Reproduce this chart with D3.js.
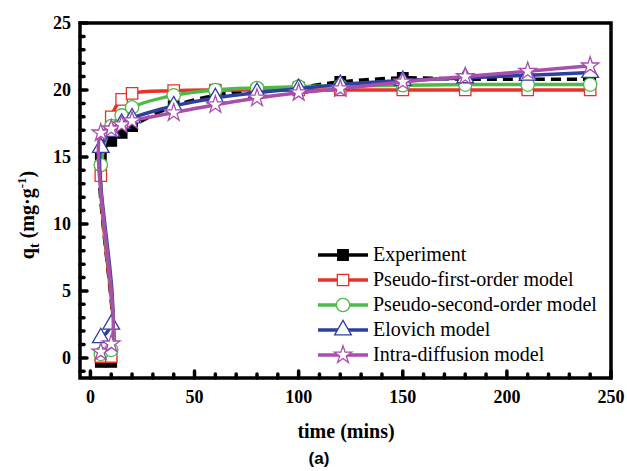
<!DOCTYPE html>
<html>
<head>
<meta charset="utf-8">
<script src="https://d3js.org/d3.v7.min.js"></script>
<style>
  body { margin: 0; background: #fff; }
</style>
</head>
<body>
<script>
"use strict";

// sampling times (min); the first two points of every series sit near zero
var lowTimes = [5, 10];
var times = [5, 10, 15, 20, 40, 60, 80, 100, 120, 150, 180, 210, 240];

var expLow = [-0.3, -0.3];
var expHigh = [15.1, 16.2, 16.8, 17.3, 18.8, 19.6, 20.0, 20.2, 20.6, 20.9, 20.8, 20.8, 20.8];
var pfoLow = [0.1, 0.1];
var pfoHigh = [13.6, 18.0, 19.3, 19.75, 19.95, 20.0, 20.0, 20.0, 20.0, 20.0, 20.0, 20.0, 20.0];
var psoLow = [0.3, 0.6];
var psoHigh = [14.4, 17.3, 18.1, 18.7, 19.6, 20.0, 20.15, 20.25, 20.3, 20.35, 20.4, 20.4, 20.4];
var eloLow = [1.5, 2.5];
var eloHigh = [15.7, 16.9, 17.5, 17.9, 18.8, 19.4, 19.8, 20.1, 20.4, 20.7, 20.9, 21.1, 21.3];
var idfLow = [0.45, 1.05];
var idfHigh = [16.8, 17.1, 17.4, 17.7, 18.3, 18.9, 19.4, 19.8, 20.1, 20.6, 21.0, 21.4, 21.8];

var xTicks = [0, 50, 100, 150, 200, 250];
var yTicks = [0, 5, 10, 15, 20, 25];

var series = [
  {name: "Experiment", color: "#000000", low: expLow, high: expHigh, symbol: d3.symbolSquare, size: 110, fill: "#000", dash: "10,6"},
  {name: "Pseudo-first-order model", color: "#e8312b", low: pfoLow, high: pfoHigh, symbol: d3.symbolSquare, size: 130, fill: "#fff"},
  {name: "Pseudo-second-order model", color: "#4cba48", low: psoLow, high: psoHigh, symbol: d3.symbolCircle, size: 140, fill: "#fff"},
  {name: "Elovich model", color: "#2f3f9f", low: eloLow, high: eloHigh, symbol: d3.symbolTriangle, size: 120, fill: "#fff"},
  {name: "Intra-diffusion model", color: "#a84eab", low: idfLow, high: idfHigh, symbol: d3.symbolStar, size: 95, fill: "#fff"}
];

var serif = "'Liberation Serif', 'Times New Roman', 'DejaVu Serif', serif";
var W = 627, H = 471;
var pLeft = 80, pRight = 611, pTop = 23, pBottom = 378;

var svg = d3.select("body").append("svg")
    .attr("width", W)
    .attr("height", H)
    .attr("font-family", serif);

var x = d3.scaleLinear().domain([-5, 250]).range([pLeft, pRight]);
var y = d3.scaleLinear().domain([-1.5, 25]).range([pBottom, pTop]);

// minor + major ticks, pointing inward
var g = svg.append("g");
d3.range(0, 251, 10).forEach(function(t) {
  var major = t % 50 === 0;
  g.append("line")
      .attr("x1", x(t)).attr("x2", x(t))
      .attr("y1", pBottom).attr("y2", pBottom - (major ? 7 : 4))
      .attr("stroke", "#000").attr("stroke-width", 3.5).attr("stroke-linecap", "round");
});
d3.range(-1, 26, 1).forEach(function(v) {
  var major = v % 5 === 0;
  g.append("line")
      .attr("y1", y(v)).attr("y2", y(v))
      .attr("x1", pLeft).attr("x2", pLeft + (major ? 7 : 4))
      .attr("stroke", "#000").attr("stroke-width", 3.5).attr("stroke-linecap", "round");
});

// tick labels
svg.selectAll(".xl").data(xTicks).enter().append("text")
    .attr("x", function(d) { return x(d); })
    .attr("y", 403)
    .attr("text-anchor", "middle")
    .attr("font-family", serif)
    .style("font-size", "18px").style("font-weight", "bold")
    .text(function(d) { return d; });
svg.selectAll(".yl").data(yTicks).enter().append("text")
    .attr("x", 71)
    .attr("y", function(d) { return y(d) + 6; })
    .attr("text-anchor", "end")
    .attr("font-family", serif)
    .style("font-size", "18px").style("font-weight", "bold")
    .text(function(d) { return d; });

// axis titles
svg.append("text")
    .attr("x", 346).attr("y", 438)
    .attr("text-anchor", "middle")
    .attr("font-family", serif)
    .style("font-size", "20px").style("font-weight", "bold")
    .text("time (mins)");
svg.append("text")
    .attr("x", 319).attr("y", 464)
    .attr("text-anchor", "middle")
    .attr("font-family", "'Liberation Sans', Arial, sans-serif")
    .style("font-size", "17px").style("font-weight", "bold")
    .text("(a)");

var yt = svg.append("text")
    .attr("transform", "translate(34,215) rotate(-90)")
    .attr("text-anchor", "middle")
    .attr("font-family", serif)
    .style("font-size", "20px").style("font-weight", "bold");
yt.append("tspan").text("q");
yt.append("tspan").attr("dy", 5).style("font-size", "14px").text("t");
yt.append("tspan").attr("dy", -5).text(" (mg\u00b7g");
yt.append("tspan").attr("dy", -8).style("font-size", "13px").text("-1");
yt.append("tspan").attr("dy", 8).text(")");

// curves
var line = d3.line()
    .x(function(d) { return x(d[0]); })
    .y(function(d) { return y(d[1]); })
    .curve(d3.curveCatmullRom.alpha(0.5));

var plot = svg.append("g");
series.forEach(function(s) {
  var pts = lowTimes.map(function(t, i) { return [t, s.low[i]]; })
      .concat(times.map(function(t, i) { return [t, s.high[i]]; }));
  plot.append("path")
      .attr("d", line(pts))
      .attr("fill", "none")
      .attr("stroke", s.color)
      .attr("stroke-width", 3.5)
      .attr("stroke-dasharray", s.dash || null);
  plot.selectAll(null).data(pts).enter().append("path")
      .attr("d", d3.symbol().type(s.symbol).size(s.size))
      .attr("transform", function(d) { return "translate(" + x(d[0]) + "," + y(d[1]) + ")"; })
      .attr("fill", s.fill)
      .attr("stroke", s.color)
      .attr("stroke-width", 1.3);
});

// frame
svg.append("rect")
    .attr("x", pLeft).attr("y", pTop)
    .attr("width", pRight - pLeft).attr("height", pBottom - pTop)
    .attr("fill", "none").attr("stroke", "#000").attr("stroke-width", 3.5);

// legend
var leg = svg.append("g");
series.forEach(function(s, i) {
  var ly = 255 + i * 25;
  leg.append("line")
      .attr("x1", 318).attr("x2", 368)
      .attr("y1", ly).attr("y2", ly)
      .attr("stroke", s.color).attr("stroke-width", 3.5);
  leg.append("path")
      .attr("d", d3.symbol().type(s.symbol).size(s.size))
      .attr("transform", "translate(343," + ly + ")")
      .attr("fill", s.fill).attr("stroke", s.color).attr("stroke-width", 1.3);
  leg.append("text")
      .attr("x", 373).attr("y", ly + 6)
      .attr("font-family", serif)
      .style("font-size", "20px")
      .text(s.name);
});
</script>
</body>
</html>
